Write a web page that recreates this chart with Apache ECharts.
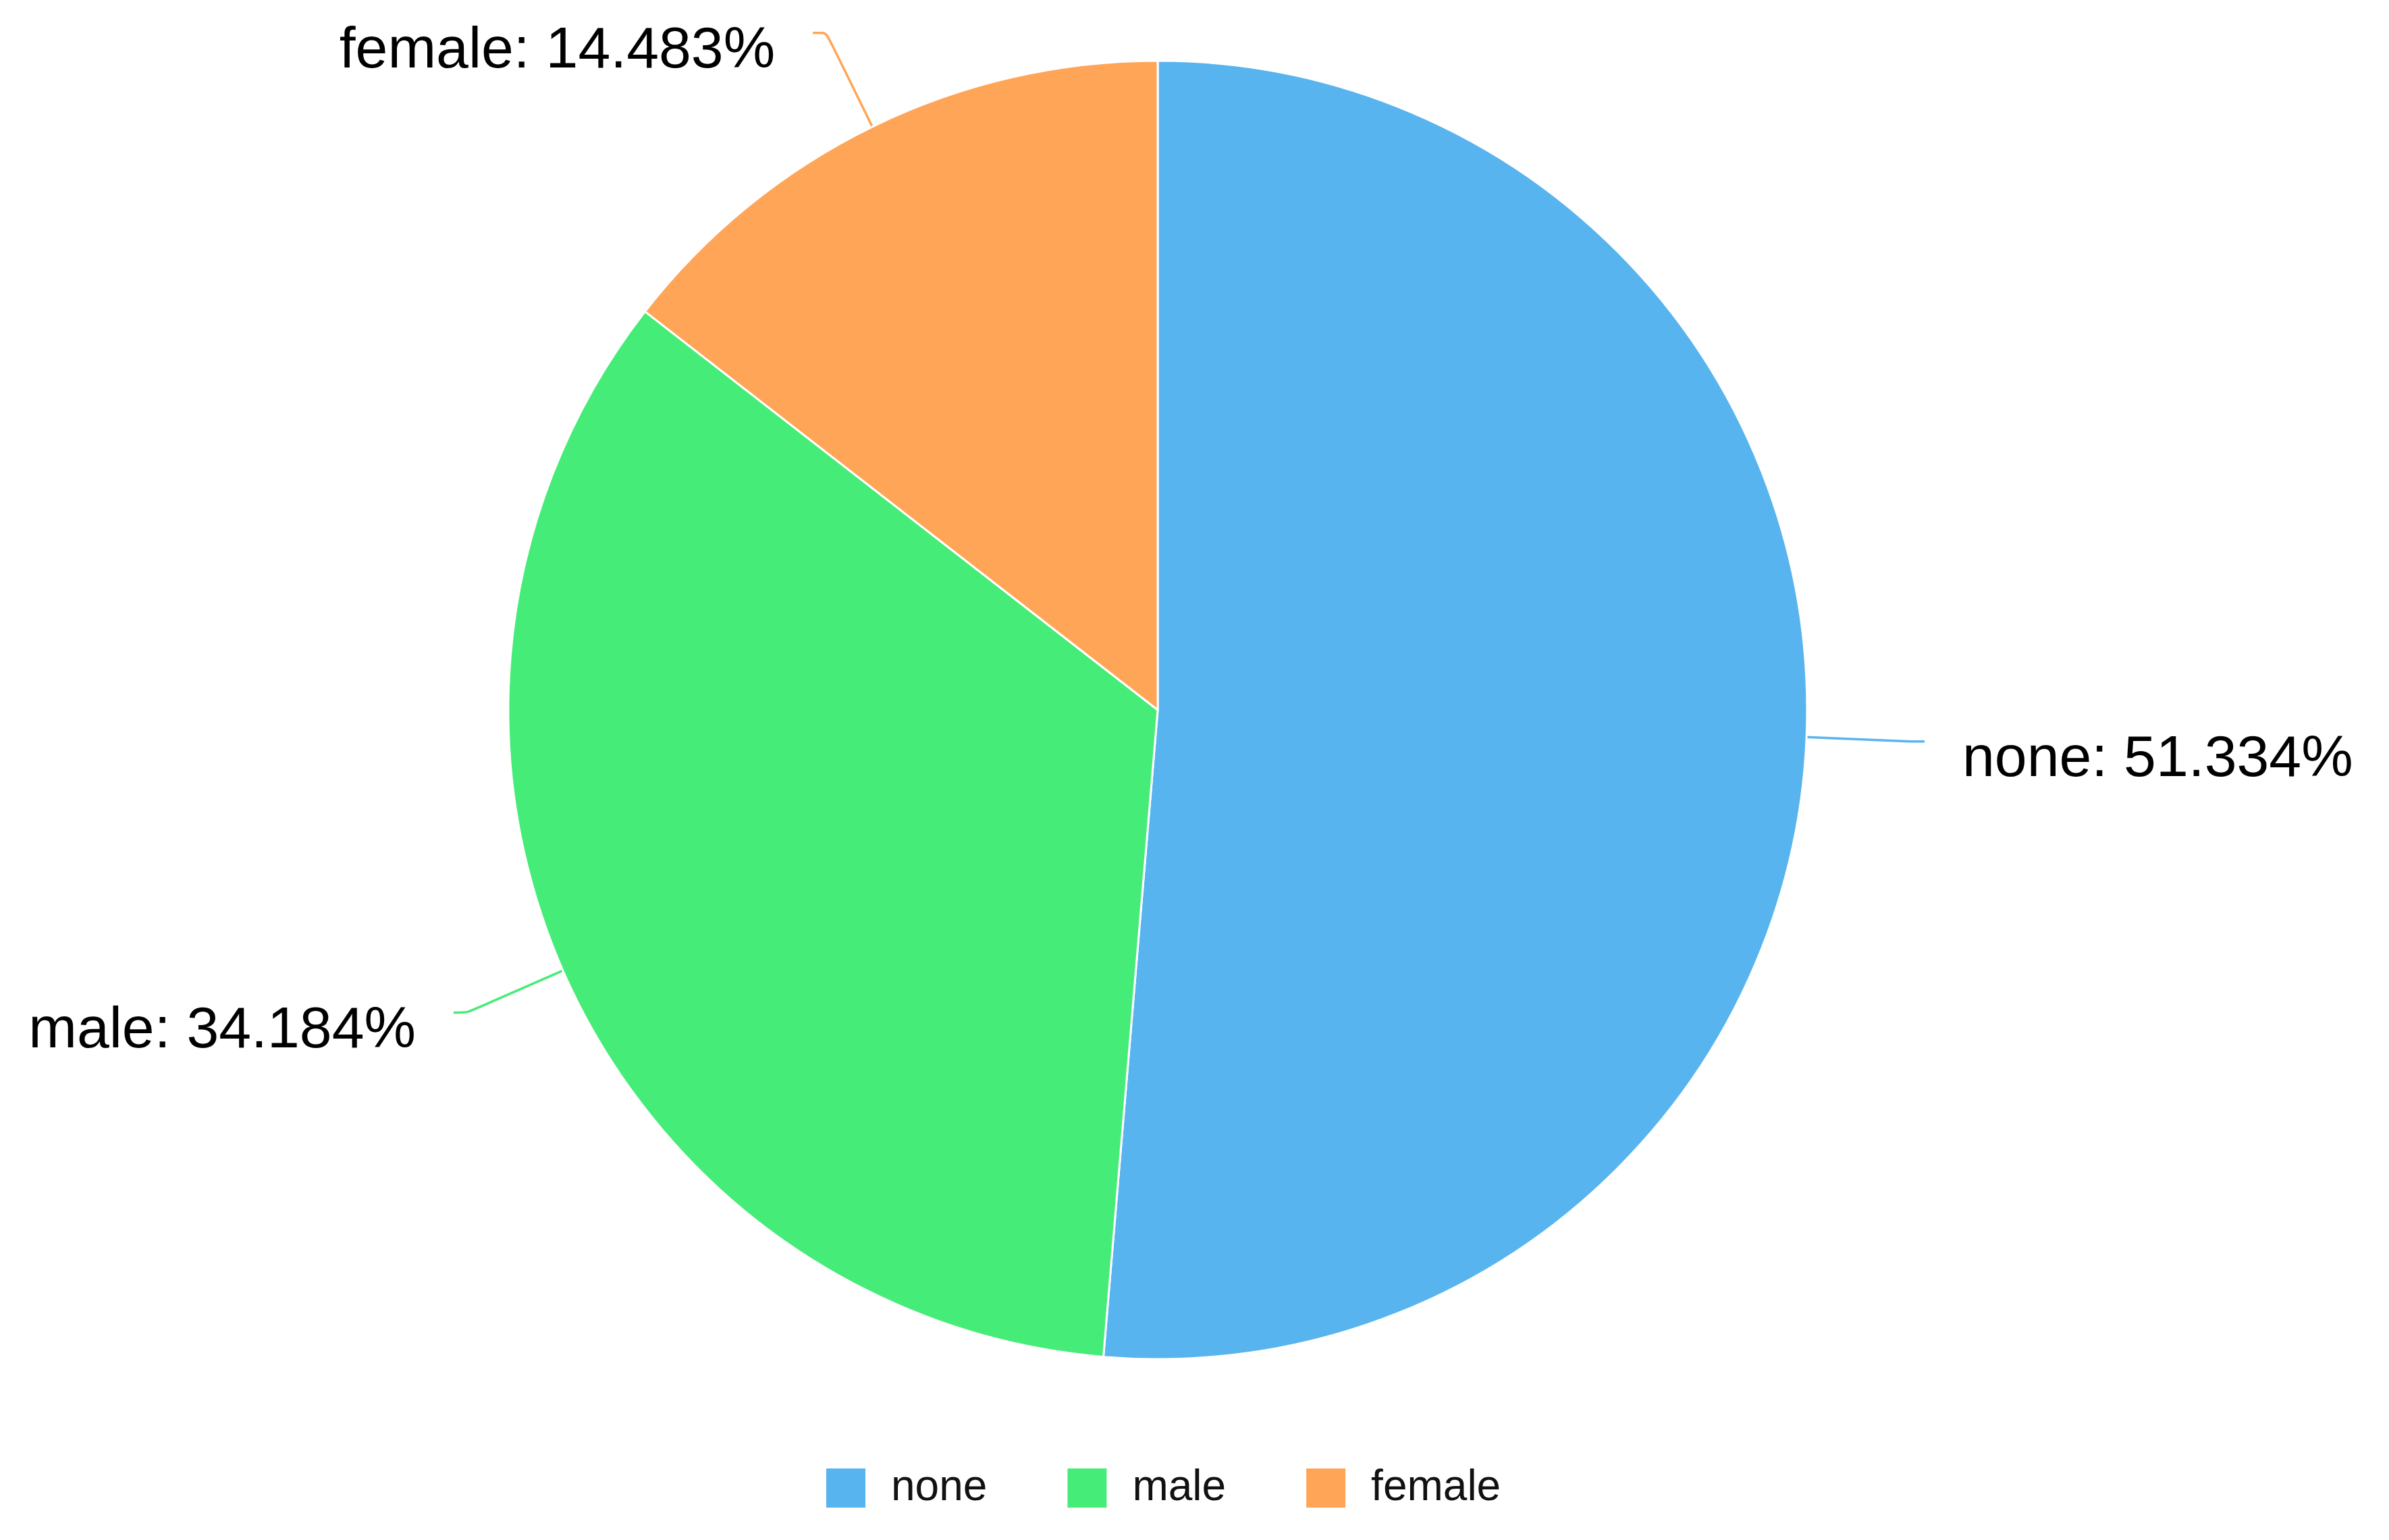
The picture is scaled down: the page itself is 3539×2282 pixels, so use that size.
<!DOCTYPE html>
<html>
<head>
<meta charset="utf-8">
<title>pie</title>
<script src="https://cdn.jsdelivr.net/npm/echarts@6/dist/echarts.min.js"></script>
<style>
  html, body { margin: 0; padding: 0; background: #fff; }
  #chart { width: 3539px; height: 2282px; }
</style>
</head>
<body>
<div id="chart"></div>
<script>
// values are the shares already in percent
const categories = ['none', 'male', 'female'];
const shares = [51.334, 34.184, 14.483];
const colors = ['#58b4ee', '#46ec78', '#ffa557'];

const fontFamily = "'Liberation Sans', Arial, sans-serif";

const chart = echarts.init(document.getElementById('chart'), null, { renderer: 'canvas' });

chart.setOption({
  animation: false,
  color: colors,
  legend: {
    data: categories,
    left: 1217,
    top: 2168,
    icon: 'rect',
    itemWidth: 60,
    itemHeight: 60,
    itemGap: 117,
    textStyle: {
      fontFamily,
      fontSize: 64,
      color: '#111',
      padding: [0, 0, 0, 32],
    },
  },
  series: [
    {
      type: 'pie',
      center: [1715, 1052],
      radius: 962,
      startAngle: 90,
      clockwise: true,
      avoidLabelOverlap: false,
      data: categories.map((name, i) => ({ name, value: shares[i] })),
      itemStyle: {
        borderColor: '#fff',
        borderWidth: 3,
      },
      label: {
        show: true,
        // empty first line pushes the text a bit below the line end
        formatter: '{gap|}\n{txt|{b}: {c}%}',
        distanceToLabelLine: 56,
        rich: {
          gap: { height: 56, lineHeight: 56 },
          txt: {
            fontFamily,
            fontSize: 86,
            lineHeight: 100,
            color: '#000',
          },
        },
      },
      labelLine: {
        show: true,
        length: 155,
        length2: 20,
        smooth: 0.2,
        lineStyle: { width: 3.5 },
      },
      emphasis: { disabled: true },
    },
  ],
});
</script>
</body>
</html>
